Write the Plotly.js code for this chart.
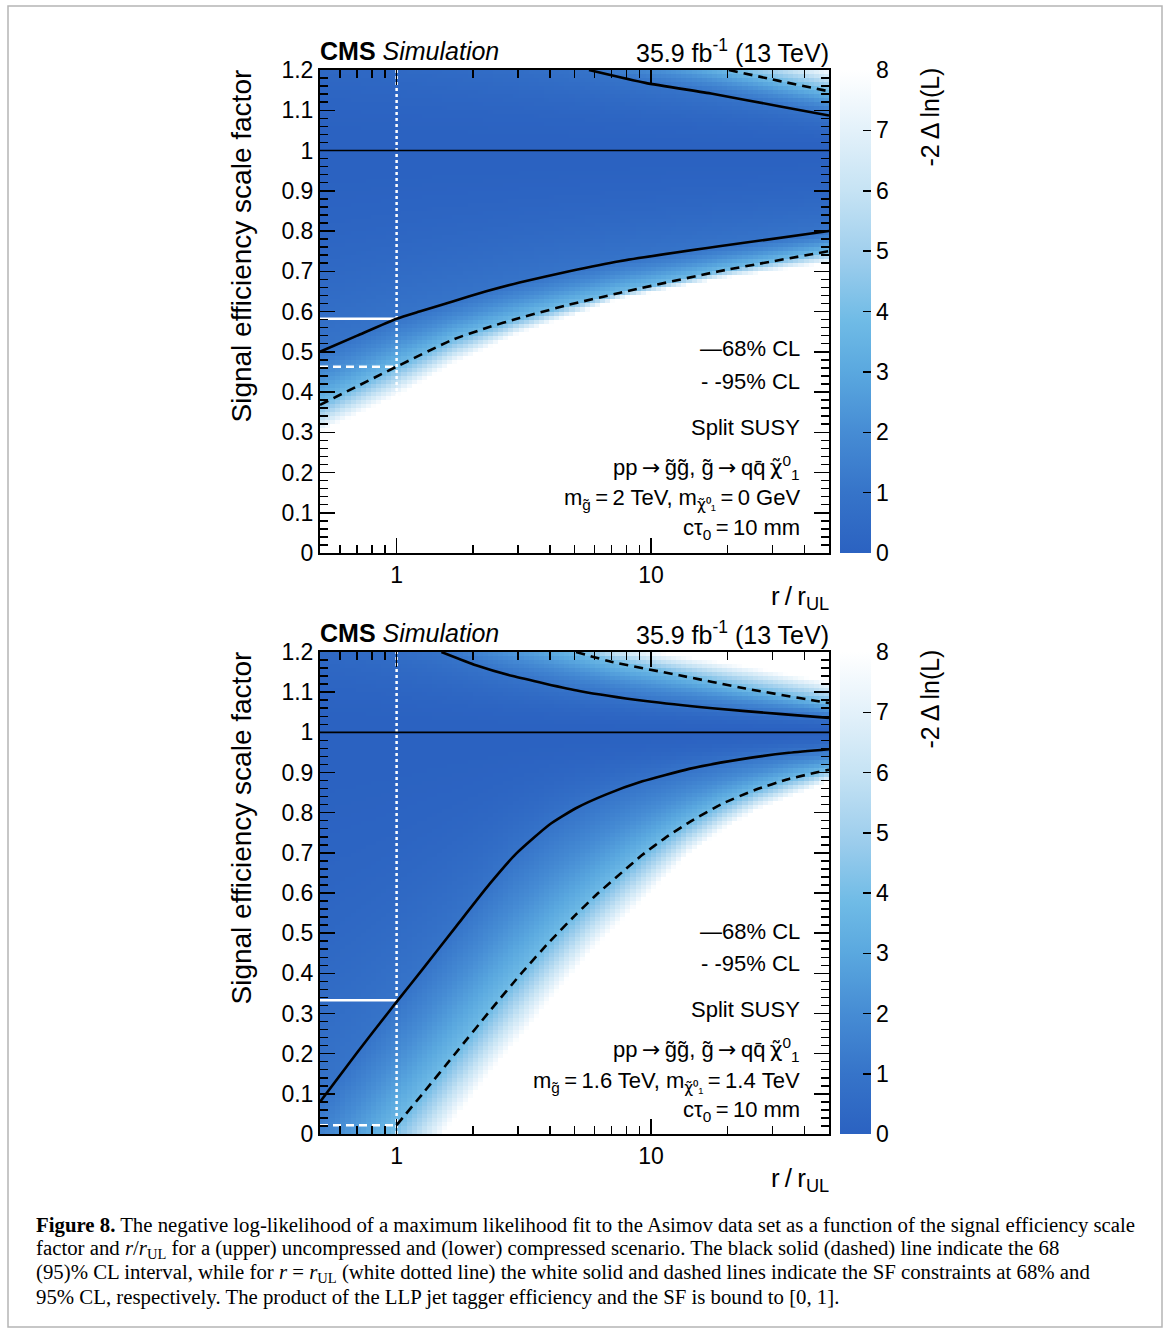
<!DOCTYPE html>
<html>
<head>
<meta charset="utf-8">
<script src="https://cdn.plot.ly/plotly-3.0.1.min.js"></script>
<style>
  body { margin: 0; background: #ffffff; }
  #myDiv { width: 1170px; height: 1332px; }
</style>
</head>
<body>
<div id="myDiv"></div>
<script>
// ---- values ----
// upper panel (uncompressed): contour lines of -2 Delta ln(L), x = r/r_UL, y = signal efficiency SF
var topLo68X = [0.5, 0.7, 1, 1.23, 1.66, 2.25, 3.04, 4.77, 7.5, 18.5, 50]
var topLo68Y = [0.50, 0.54, 0.582, 0.60, 0.625, 0.65, 0.672, 0.70, 0.725, 0.762, 0.80]
var topLo95X = [0.5, 1, 1.66, 2.25, 3.04, 4.77, 7.5, 18.5, 50]
var topLo95Y = [0.368, 0.463, 0.53, 0.559, 0.584, 0.617, 0.646, 0.70, 0.75]
var topHi68X = [5.7, 9.5, 17.4, 31.8, 50]
var topHi68Y = [1.2, 1.168, 1.141, 1.11, 1.087]
var topHi95X = [20.2, 31.8, 50]
var topHi95Y = [1.2, 1.173, 1.147]
// where the colour reaches white (-2 Delta ln L = 8)
var topLoEdgeX = [0.5, 1, 1.66, 3.04, 7.5, 18.5, 50]
var topLoEdgeY = [0.30, 0.39, 0.47, 0.547, 0.63, 0.68, 0.72]
// SF constraints at r = r_UL
var topSF68 = 0.582
var topSF95 = 0.463

// lower panel (compressed)
var botLo68X = [0.5, 0.7, 0.939, 1, 1.268, 1.714, 2.316, 2.95, 3.98, 5.06, 6.63, 9.24, 14.1, 22.1, 34.8, 50]
var botLo68Y = [0.08, 0.203, 0.307, 0.329, 0.411, 0.517, 0.622, 0.698, 0.770, 0.811, 0.845, 0.878, 0.909, 0.932, 0.949, 0.958]
var botLo95X = [1, 1.268, 1.714, 2.316, 3.13, 3.98, 5.06, 6.08, 7.70, 9.24, 11.4, 14.1, 19.0, 25.7, 34.8, 50]
var botLo95Y = [0.022, 0.101, 0.203, 0.305, 0.404, 0.478, 0.546, 0.595, 0.652, 0.695, 0.738, 0.776, 0.822, 0.857, 0.884, 0.907]
var botHi68X = [1.5, 2.05, 2.86, 5.22, 9.5, 17.4, 31.8, 50]
var botHi68Y = [1.2, 1.167, 1.140, 1.103, 1.078, 1.060, 1.046, 1.036]
var botHi95X = [5.07, 7.04, 12.9, 23.5, 42.9, 50]
var botHi95Y = [1.2, 1.175, 1.142, 1.109, 1.08, 1.073]
var botLoEdgeX = [1.566, 2.316, 3.13, 4.23, 5.71, 7.70, 10.4, 14.1, 19.0, 25.7, 34.8, 47]
var botLoEdgeY = [0.01, 0.151, 0.25, 0.35, 0.45, 0.532, 0.615, 0.698, 0.756, 0.806, 0.839, 0.872]
var botHiEdgeX = [10.4, 23.5, 50]
var botHiEdgeY = [1.2, 1.165, 1.125]
var botSF68 = 0.333
var botSF95 = 0.022

var bestFitSF = 1
var rUL = 1

// axis ticks
var xTickVals = [1, 10]
var xTickText = ['1', '10']
var xMinorVals = [0.6, 0.7, 0.8, 0.9, 2, 3, 4, 5, 6, 7, 8, 9, 20, 30, 40]
var yTickVals = [0, 0.1, 0.2, 0.3, 0.4, 0.5, 0.6, 0.7, 0.8, 0.9, 1, 1.1, 1.2]
var yTickText = ['0', '0.1', '0.2', '0.3', '0.4', '0.5', '0.6', '0.7', '0.8', '0.9', '1', '1.1', '1.2']

var blues = [
  [0, '#2b62c1'], [0.125, '#3674c9'], [0.25, '#468cd4'], [0.375, '#5aa8df'],
  [0.48, '#6fbbe6'], [0.6, '#9accec'], [0.75, '#c6e3f4'], [0.875, '#e3f1fa'], [1, '#ffffff']
]

// ---- helpers ----
var W = 1170, H = 1332
function px(v) { return v / W }
function py(v) { return 1 - v / H }

// linear in log10(x), straight extension past the ends
function interpLog(xs, ys, x) {
  var lx = Math.log10(x)
  var L = xs.map(function (v) { return Math.log10(v) })
  var i = 0
  if (lx >= L[L.length - 1]) i = L.length - 2
  else if (lx > L[0]) { while (lx > L[i + 1]) i++ }
  var t = (lx - L[i]) / (L[i + 1] - L[i])
  return ys[i] + t * (ys[i + 1] - ys[i])
}

function interpKnots(k, y) {
  var i = 0
  if (y >= k[k.length - 1][0]) i = k.length - 2
  else if (y > k[0][0]) { while (y > k[i + 1][0]) i++ }
  var t = (y - k[i][0]) / (k[i + 1][0] - k[i][0])
  return k[i][1] + t * (k[i + 1][1] - k[i][1])
}

var S68 = 1, S95 = Math.sqrt(3.84), SW = Math.sqrt(8)

// builds the binned -2 Delta ln L table from the read contours
function buildGrid(c) {
  var nx = 100, ny = 120
  var lx0 = Math.log10(0.5), lx1 = Math.log10(50)
  var xe = [], ye = [], z = []
  for (var i = 0; i <= nx; i++) xe.push(Math.pow(10, lx0 + (lx1 - lx0) * i / nx))
  for (var j = 0; j <= ny; j++) ye.push(1.2 * j / ny)
  for (var j = 0; j < ny; j++) z.push([])
  for (var i = 0; i < nx; i++) {
    var xc = Math.sqrt(xe[i] * xe[i + 1])
    var knots = []
    if (c.loEdge) knots.push([interpLog(c.loEdge[0], c.loEdge[1], xc), SW])
    knots.push([interpLog(c.lo95[0], c.lo95[1], xc), S95])
    knots.push([interpLog(c.lo68[0], c.lo68[1], xc), S68])
    knots.push([bestFitSF, 0])
    knots.push([interpLog(c.hi68[0], c.hi68[1], xc), S68])
    knots.push([interpLog(c.hi95[0], c.hi95[1], xc), S95])
    if (c.hiEdge) knots.push([interpLog(c.hiEdge[0], c.hiEdge[1], xc), SW])
    var k2 = [knots[0]]
    for (var k = 1; k < knots.length; k++) {
      if (knots[k][0] > k2[k2.length - 1][0] + 1e-4) k2.push(knots[k])
    }
    for (var j = 0; j < ny; j++) {
      var yc = 0.5 * (ye[j] + ye[j + 1])
      var s = Math.max(0, interpKnots(k2, yc))
      z[j].push(s * s)
    }
  }
  return { x: xe, y: ye, z: z }
}

var gTop = buildGrid({
  lo68: [topLo68X, topLo68Y], lo95: [topLo95X, topLo95Y],
  hi68: [topHi68X, topHi68Y], hi95: [topHi95X, topHi95Y],
  loEdge: [topLoEdgeX, topLoEdgeY], hiEdge: null
})
var gBot = buildGrid({
  lo68: [botLo68X, botLo68Y], lo95: [botLo95X, botLo95Y],
  hi68: [botHi68X, botHi68Y], hi95: [botHi95X, botHi95Y],
  loEdge: [botLoEdgeX, botLoEdgeY], hiEdge: [botHiEdgeX, botHiEdgeY]
})

var FONT = 'Liberation Sans, Arial, Helvetica, sans-serif'

function colorbar(top, bottom) {
  return {
    x: px(840), xanchor: 'left', y: py(bottom), yanchor: 'bottom',
    len: (bottom - top) / H, lenmode: 'fraction',
    thickness: 31, thicknessmode: 'pixels', xpad: 0, ypad: 0,
    outlinewidth: 0, ticks: 'inside', ticklen: 8, tickwidth: 1.5, tickcolor: '#000',
    tickmode: 'linear', tick0: 0, dtick: 1,
    tickfont: { family: FONT, size: 23, color: '#000' }
  }
}

function heat(g, xa, ya, top, bottom) {
  return {
    type: 'heatmap', x: g.x, y: g.y, z: g.z, xaxis: xa, yaxis: ya,
    zmin: 0, zmax: 8, colorscale: blues, zsmooth: false,
    hoverinfo: 'skip', colorbar: colorbar(top, bottom)
  }
}

function line(xs, ys, xa, ya, color, dash, width) {
  return {
    type: 'scatter', mode: 'lines', x: xs, y: ys, xaxis: xa, yaxis: ya,
    line: { color: color, dash: dash, width: width, shape: 'spline', smoothing: 0.5 },
    hoverinfo: 'skip', showlegend: false
  }
}

function panelLines(c, xa, ya) {
  return [
    line([rUL, rUL], [0, 1.2], xa, ya, '#ffffff', 'dot', 2.5),
    line([0.5, rUL], [c.sf68, c.sf68], xa, ya, '#ffffff', 'solid', 2.5),
    line([0.5, rUL], [c.sf95, c.sf95], xa, ya, '#ffffff', '8px,5px', 2.5),
    line([0.5, 50], [bestFitSF, bestFitSF], xa, ya, '#000000', 'solid', 1.6),
    line(c.lo68[0], c.lo68[1], xa, ya, '#000000', 'solid', 2.6),
    line(c.hi68[0], c.hi68[1], xa, ya, '#000000', 'solid', 2.6),
    line(c.lo95[0], c.lo95[1], xa, ya, '#000000', '9px,6px', 2.6),
    line(c.hi95[0], c.hi95[1], xa, ya, '#000000', '9px,6px', 2.6)
  ]
}

var data = [heat(gTop, 'x', 'y', 70, 553), heat(gBot, 'x2', 'y2', 652, 1134)]
data = data.concat(panelLines({ lo68: [topLo68X, topLo68Y], hi68: [topHi68X, topHi68Y],
  lo95: [topLo95X, topLo95Y], hi95: [topHi95X, topHi95Y], sf68: topSF68, sf95: topSF95 }, 'x', 'y'))
data = data.concat(panelLines({ lo68: [botLo68X, botLo68Y], hi68: [botHi68X, botHi68Y],
  lo95: [botLo95X, botLo95Y], hi95: [botHi95X, botHi95Y], sf68: botSF68, sf95: botSF95 }, 'x2', 'y2'))

function xAxis(anchor) {
  return {
    type: 'log', domain: [px(320), px(829)], anchor: anchor,
    range: [Math.log10(0.5), Math.log10(50)],
    tickmode: 'array', tickvals: xTickVals, ticktext: xTickText,
    ticks: 'inside', ticklen: 15, tickwidth: 1.5, tickcolor: '#000',
    minor: { tickmode: 'array', tickvals: xMinorVals, ticks: 'inside', ticklen: 8, tickwidth: 1.5, tickcolor: '#000', showgrid: false },
    showline: true, linewidth: 2, linecolor: '#000', mirror: 'ticks',
    showgrid: false, zeroline: false,
    tickfont: { family: FONT, size: 23, color: '#000' }
  }
}
function yAxis(anchor, top, bottom) {
  return {
    domain: [py(bottom), py(top)], anchor: anchor, range: [0, 1.2],
    tickmode: 'array', tickvals: yTickVals, ticktext: yTickText,
    ticks: 'inside', ticklen: 15, tickwidth: 1.5, tickcolor: '#000',
    minor: { tickmode: 'linear', tick0: 0, dtick: 0.02, ticks: 'inside', ticklen: 8, tickwidth: 1.5, tickcolor: '#000', showgrid: false },
    showline: true, linewidth: 2, linecolor: '#000', mirror: 'ticks',
    showgrid: false, zeroline: false,
    tickfont: { family: FONT, size: 23, color: '#000' }
  }
}

function ann(text, x, y, xanchor, yanchor, size, extra) {
  var a = {
    text: text, xref: 'paper', yref: 'paper', x: px(x), y: py(y),
    xanchor: xanchor, yanchor: yanchor, showarrow: false,
    font: { family: FONT, size: size, color: '#000' }
  }
  for (var k in extra) a[k] = extra[k]
  return a
}

// chi-tilde and arrow drawn with DejaVu so the accent sits on the letter
var CHI = '<span style="font-family:DejaVu Sans">\u03c7\u0303</span>'
var ARROW = '<span style="font-family:DejaVu Sans">\u2009\u2192\u2009</span>'

function panelTexts(off, massText) {
  return [
    ann('<b>CMS</b> <i>Simulation</i>', 318, 51 + off, 'left', 'middle', 25),
    ann('35.9 fb<sup>-1</sup> (13 TeV)', 831, 51 + off, 'right', 'middle', 25),
    ann('Signal efficiency scale factor', 241, 68 + off, 'center', 'top', 28, { textangle: -90 }),
    ann('-2\u2009\u0394\u2009ln(L)', 929, 66 + off, 'center', 'top', 25, { textangle: -90 }),
    ann('r\u2009/\u2009r<sub>UL</sub>', 831, 597 + off, 'right', 'middle', 26),
    ann('\u201468% CL', 802, 349 + off, 'right', 'middle', 22),
    ann('- -95% CL', 802, 381 + off, 'right', 'middle', 22),
    ann('Split SUSY', 802, 428 + off, 'right', 'middle', 22),
    ann('pp' + ARROW + 'g\u0303g\u0303, g\u0303' + ARROW + 'qq\u0304\u2009' + CHI + '<sup>0</sup><sub>1</sub>', 802, 467 + off, 'right', 'middle', 22),
    ann(massText, 802, 500 + off, 'right', 'middle', 22),
    ann('c\u03c4<sub>0</sub>\u2009=\u200910 mm', 802, 529 + off, 'right', 'middle', 22)
  ]
}

var SERIF = 'Liberation Serif, Times New Roman, serif'
var caption = [
  '<b>Figure 8.</b> The negative log-likelihood of a maximum likelihood fit to the Asimov data set as a function of the signal efficiency scale',
  'factor and <i>r</i>/<i>r</i><sub>UL</sub> for a (upper) uncompressed and (lower) compressed scenario. The black solid (dashed) line indicate the 68',
  '(95)% CL interval, while for <i>r</i> = <i>r</i><sub>UL</sub> (white dotted line) the white solid and dashed lines indicate the SF constraints at 68% and',
  '95% CL, respectively. The product of the LLP jet tagger efficiency and the SF is bound to [0, 1].'
]

var annotations = panelTexts(0, 'm<sub>g\u0303</sub>\u2009=\u20092 TeV, m<sub>' + CHI + '\u2070\u2081</sub>\u2009=\u20090 GeV')
  .concat(panelTexts(582, 'm<sub>g\u0303</sub>\u2009=\u20091.6 TeV, m<sub>' + CHI + '\u2070\u2081</sub>\u2009=\u20091.4 TeV'))
caption.forEach(function (t, i) {
  annotations.push({
    text: t, xref: 'paper', yref: 'paper', x: px(34), y: py(1225 + 24 * i),
    xanchor: 'left', yanchor: 'middle', showarrow: false, align: 'left',
    font: { family: SERIF, size: 20.8, color: '#000' }
  })
})

var layout = {
  width: W, height: H,
  margin: { l: 0, r: 0, t: 0, b: 0, pad: 0 },
  paper_bgcolor: '#ffffff', plot_bgcolor: '#ffffff',
  showlegend: false,
  font: { family: FONT, color: '#000' },
  xaxis: xAxis('y'), yaxis: yAxis('x', 70, 553),
  xaxis2: xAxis('y2'), yaxis2: yAxis('x2', 652, 1134),
  annotations: annotations,
  shapes: [{
    type: 'rect', xref: 'paper', yref: 'paper',
    x0: px(8), x1: px(1162), y0: py(1327), y1: py(6),
    line: { color: '#b5b5b5', width: 1.5 }
  }]
}

Plotly.newPlot('myDiv', data, layout, { staticPlot: true })
</script>
</body>
</html>
